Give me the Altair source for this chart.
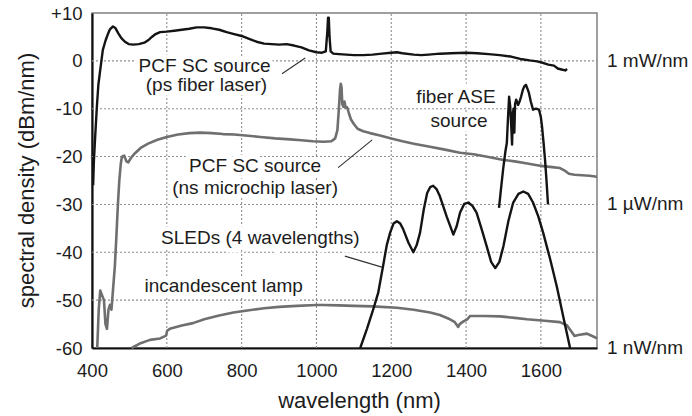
import altair as alt
import pandas as pd

# ---- data ----
# PCF SC source pumped by ps fiber laser (black)
ps_wl = [403, 405, 408, 413, 417, 421, 429, 436, 442, 448, 456, 463, 470, 478, 488, 498, 510, 525, 540, 550,
         560, 570, 582, 600, 620, 640, 660, 680, 700, 720, 740, 760, 780, 800, 820, 840, 860, 880, 900, 920,
         940, 960, 980, 1000, 1015, 1025, 1029, 1031, 1033, 1035, 1038, 1045, 1060, 1080, 1100, 1125, 1150,
         1175, 1200, 1215, 1230, 1260, 1280, 1300, 1330, 1360, 1400, 1430, 1460, 1490, 1520, 1545, 1570, 1590,
         1605, 1620, 1635, 1645, 1655, 1665, 1670]
ps_db = [-26, -21, -16.5, -9.6, -5, -2.5, 2.3, 4.2, 5.5, 6.6, 7.2, 6.8, 5.8, 4.8, 4.0, 3.5, 3.4, 3.5, 3.8, 4.3,
         5.0, 5.6, 6.0, 6.1, 6.3, 6.5, 6.7, 7.0, 7.0, 6.8, 6.5, 6.0, 5.6, 5.2, 4.6, 4.0, 3.6, 3.5, 3.4, 3.5,
         3.2, 2.8, 2.2, 1.8, 1.7, 2.0, 6.0, 9.0, 9.0, 5.0, 2.0, 1.5, 1.4, 1.3, 1.2, 1.2, 1.3,
         1.5, 1.7, 1.8, 1.6, 1.3, 1.2, 1.3, 1.5, 1.6, 1.7, 1.6, 1.4, 1.2, 0.9, 0.4, 0.1, -0.1,
         -0.4, -0.8, -1.0, -1.6, -1.8, -2.0, -1.7]

# PCF SC source pumped by ns microchip laser (gray)
ns_wl = [414, 418, 422, 427, 432, 436, 440, 444, 448, 452, 456, 461, 465, 468, 470, 473, 477, 480, 486, 492,
         497, 504, 515, 530, 550, 575, 600, 630, 660, 690, 720, 750, 780, 810, 850, 890, 930, 960, 990, 1020,
         1040, 1050, 1056, 1060, 1063, 1065, 1067, 1069, 1072, 1075, 1078, 1082, 1087, 1092, 1100, 1110, 1125,
         1143, 1170, 1200, 1230, 1260, 1300, 1340, 1384, 1420, 1460, 1500, 1530, 1560, 1590, 1606, 1630, 1651,
         1665, 1675, 1690, 1710, 1730, 1750]
ns_db = [-60, -52, -48, -49, -50, -55, -56, -52, -51, -52, -48, -43, -37, -32, -29, -25, -21.5, -20, -19.8, -21,
         -21.2, -20.3, -19.3, -18.2, -17.3, -16.5, -15.9, -15.4, -15.1, -15.0, -15.1, -15.3, -15.4, -15.6, -15.9,
         -16.2, -16.4, -16.6, -16.8, -16.9, -16.8, -16.2, -14.5, -10, -6, -4.8, -5.5, -9, -9.6, -8.5, -9.8, -9.7,
         -11, -12.2, -13.2, -14.2, -14.7, -15.1, -15.6, -16.2, -16.8, -17.3, -17.9, -18.5, -19.2, -19.5, -20.1,
         -20.7, -21.0, -21.4, -21.8, -22.0, -22.2, -22.4, -23.0, -23.6, -23.8, -23.9, -24.0, -24.2]

# fiber ASE source (black)
ase_wl = [1488, 1493, 1499, 1505, 1509, 1512, 1515, 1518, 1521, 1523, 1525, 1527, 1529, 1531, 1534, 1539,
          1543, 1547, 1552, 1556, 1560, 1564, 1568, 1573, 1579, 1587, 1595, 1600, 1603, 1607, 1611, 1615, 1619]
ase_db = [-30.7, -27, -22.7, -19, -17.1, -12, -7.5, -9.5, -14, -17.5, -11, -10, -15, -9, -8.1, -9.2,
          -8.5, -7.5, -6, -5.3, -5.0, -5.8, -6.7, -8.5, -10.2, -10.0, -10.2, -11.8, -13.7, -17, -20.6, -25, -30]

# SLEDs, 4 wavelengths (black)
sled_wl = [1117, 1135, 1152, 1165, 1178, 1188, 1197, 1206, 1215, 1224, 1232, 1246, 1259, 1268, 1277, 1287,
           1296, 1304, 1312, 1321, 1330, 1348, 1366, 1375, 1384, 1395, 1406, 1417, 1428, 1441, 1455, 1467,
           1478, 1489, 1500, 1513, 1526, 1540, 1553, 1566, 1579, 1593, 1606, 1625, 1643, 1660, 1678]
sled_db = [-60, -56, -51.9, -48.5, -42.9, -38.5, -35.9, -34, -33.5, -34, -35.2, -38, -40, -38.5, -35.9, -31,
           -27.6, -26.4, -26.1, -26.8, -28.3, -32.5, -36.3, -34.5, -31.7, -29.9, -29.6, -30.3, -31.7, -35, -38.7,
           -42, -43.3, -42, -38.7, -33.5, -29.6, -27.8, -27.3, -27.8, -29.6, -32.5, -35.9, -41.5, -47.3, -53.5, -60]

# incandescent lamp (gray)
inc_wl = [506, 530, 555, 582, 598, 601, 608, 640, 670, 700, 740, 778, 820, 860, 900, 948, 1000, 1018, 1060,
          1100, 1150, 1215, 1260, 1304, 1330, 1357, 1370, 1379, 1383, 1392, 1403, 1411, 1450, 1491, 1530,
          1563, 1610, 1651, 1670, 1683, 1690, 1700, 1723, 1740, 1750]
inc_db = [-60, -59, -58.3, -58.0, -57.4, -56.4, -56.0, -55.3, -54.8, -54.0, -53.2, -52.6, -52.1, -51.7, -51.4,
          -51.2, -51.0, -51.0, -51.1, -51.2, -51.3, -51.6, -52.0, -52.6, -53.1, -54.0, -54.6, -55.6, -55.0,
          -54.5, -54.0, -53.3, -53.3, -53.4, -53.7, -54.0, -54.3, -54.6, -55.3, -56.7, -57.5, -57.3, -57.0,
          -57.6, -58.0]

# annotations (text baseline positions in data units)
ann_text = ["PCF SC source", "(ps fiber laser)", "PCF SC source", "(ns microchip laser)",
            "fiber ASE", "source", "SLEDs (4 wavelengths)", "incandescent lamp"]
ann_wl = [701, 706, 836, 836, 1373, 1381, 850, 752]
ann_db = [-2.3, -6.3, -23.3, -27.8, -8.9, -13.8, -38.3, -48.3]

lead_wl = [908, 1058, 1076]
lead_db = [-2.7, -22.3, -40.8]
lead_wl2 = [970, 1149, 1175]
lead_db2 = [0.6, -16.5, -43.1]

right_text = ["1 mW/nm", "1 \u00b5W/nm", "1 nW/nm"]
right_db = [0, -30, -60]

x_ticks = [400, 600, 800, 1000, 1200, 1400, 1600]
y_ticks = [-60, -50, -40, -30, -20, -10, 0, 10]
x_range = [400, 1750]
y_range = [-60, 10]

FONT = "Liberation Sans"
BLACK = "#141414"
GRAY = "#6f6f6f"
TEXT = "#1c1c1c"


def series(wl, db, name):
    return pd.DataFrame({"wl": wl, "db": db, "s": name, "i": range(len(wl))})


black_df = pd.concat([series(ps_wl, ps_db, "ps"), series(ase_wl, ase_db, "ase"),
                      series(sled_wl, sled_db, "sled")])
gray_df = pd.concat([series(ns_wl, ns_db, "ns"), series(inc_wl, inc_db, "inc")])
ann_df = pd.DataFrame({"wl": ann_wl, "db": ann_db, "t": ann_text})
lead_df = pd.DataFrame({"wl": lead_wl, "db": lead_db, "wl2": lead_wl2, "db2": lead_db2})
right_df = pd.DataFrame({"wl": [x_range[1]] * len(right_db), "db": right_db, "t": right_text})

# grid segments built from the tick arrays
gx = x_ticks[1:]
gy = y_ticks[1:-1]
grid_df = pd.DataFrame({
    "wl": gx + [x_range[0]] * len(gy),
    "wl2": gx + [x_range[1]] * len(gy),
    "db": [y_range[0]] * len(gx) + gy,
    "db2": [y_range[1]] * len(gx) + gy,
})

xs = alt.Scale(domain=x_range, nice=False, zero=False)
ys = alt.Scale(domain=y_range, nice=False, zero=False)

x_axis = alt.Axis(values=x_ticks, format="d", title="wavelength (nm)", labelPadding=13,
                  labelFlush=False, grid=False,
                  titleX=267, titleY=52, titleBaseline="middle", titleAlign="center")
y_axis = alt.Axis(values=y_ticks, title="spectral density (dBm/nm)", labelPadding=10,
                  labelFlush=False, grid=False,
                  labelExpr="datum.value > 0 ? '+' + datum.value : '' + datum.value",
                  titleX=-66, titleY=167, titleAngle=-90, titleBaseline="middle", titleAlign="center")

X = alt.X("wl:Q", scale=xs, axis=x_axis)
Y = alt.Y("db:Q", scale=ys, axis=y_axis)

grid = alt.Chart(grid_df).mark_rule(color="#8f8f8f", strokeWidth=1.1, strokeDash=[2, 2]).encode(
    x=X, y=Y, x2="wl2:Q", y2="db2:Q")

halo = alt.Chart(ann_df).mark_text(font=FONT, fontSize=19, color="white", stroke="white",
                                   strokeWidth=9, baseline="alphabetic").encode(x=X, y=Y, text="t:N")

gray_lines = alt.Chart(gray_df).mark_line(color=GRAY, strokeWidth=2.6, strokeJoin="round").encode(
    x=X, y=Y, detail="s:N", order="i:Q")
black_lines = alt.Chart(black_df).mark_line(color=BLACK, strokeWidth=2.4, strokeJoin="round").encode(
    x=X, y=Y, detail="s:N", order="i:Q")

leads = alt.Chart(lead_df).mark_rule(color="#333333", strokeWidth=1.1).encode(
    x=X, y=Y, x2="wl2:Q", y2="db2:Q")

texts = alt.Chart(ann_df).mark_text(font=FONT, fontSize=19, color=TEXT, baseline="alphabetic").encode(
    x=X, y=Y, text="t:N")

right = alt.Chart(right_df).mark_text(font=FONT, fontSize=19, color=TEXT, baseline="middle",
                                      align="left", dx=10).encode(x=X, y=Y, text="t:N")

chart = alt.layer(grid, halo, gray_lines, black_lines, leads, texts, right).properties(
    width=505, height=335,
    background="white",
    autosize=alt.AutoSizeParams(type="none"),
    padding={"left": 92, "top": 13, "right": 95, "bottom": 68},
).configure_view(
    stroke="#808080", strokeWidth=1.5
).configure_axis(
    domainColor="#111111", domainWidth=2.2, ticks=False,
    labelFont=FONT, labelFontSize=18.5, labelColor=TEXT,
    titleFont=FONT, titleFontSize=22, titleFontWeight="normal", titleColor=TEXT,
)

chart.save("out.html", embed_options={"renderer": "svg", "actions": False})
